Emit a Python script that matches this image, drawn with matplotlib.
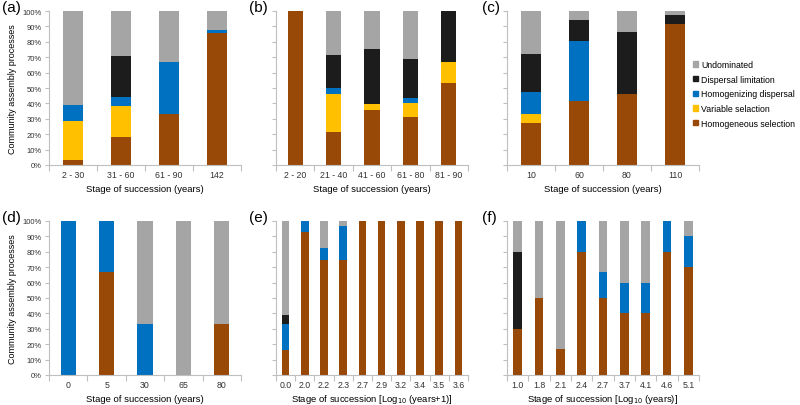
import numpy as np
import matplotlib.pyplot as plt
from matplotlib.patches import Patch

# process order (bottom -> top)
processes = ['Homogeneous selection', 'Variable selaction', 'Homogenizing dispersal',
             'Dispersal limitation', 'Undominated']
colors = ['#984807', '#FFC000', '#0070C0', '#1C1C1C', '#A5A5A5']

# values in % : [HS, VS, HD, DL] per stage, Undominated is the rest
cats_a = ['2 - 30', '31 - 60', '61 - 90', '142']
hs_a = [3.5, 18, 33.3, 86]
vs_a = [25, 20, 0, 0]
hd_a = [10.5, 6, 33.3, 1.5]
dl_a = [0, 27, 0, 0]

cats_b = ['2 - 20', '21 - 40', '41 - 60', '61 - 80', '81 - 90']
hs_b = [100, 21.2, 35.9, 30.9, 53.3]
vs_b = [0, 25, 3.4, 9.1, 13.4]
hd_b = [0, 3.7, 0, 3.6, 0]
dl_b = [0, 21.6, 35.9, 25.5, 33.3]

cats_c = ['10', '60', '80', '110']
hs_c = [27.4, 41.7, 46.4, 91.6]
vs_c = [5.9, 0, 0, 0]
hd_c = [13.8, 38.9, 0, 0]
dl_c = [24.8, 13.8, 40.2, 5.8]

cats_d = ['0', '5', '30', '65', '80']
hs_d = [0, 66.7, 0, 0, 33.3]
vs_d = [0, 0, 0, 0, 0]
hd_d = [100, 33.3, 33.3, 0, 0]
dl_d = [0, 0, 0, 0, 0]

cats_e = ['0.0', '2.0', '2.2', '2.3', '2.7', '2.9', '3.2', '3.4', '3.5', '3.6']
hs_e = [16.2, 93, 75, 75, 100, 100, 100, 100, 100, 100]
vs_e = [0] * 10
hd_e = [16.7, 7, 7.3, 21.5, 0, 0, 0, 0, 0, 0]
dl_e = [5.8, 0, 0, 0, 0, 0, 0, 0, 0, 0]

cats_f = ['1.0', '1.8', '2.1', '2.4', '2.7', '3.7', '4.1', '4.6', '5.1']
hs_f = [30, 50, 16.7, 80, 50, 40, 40, 80, 70]
vs_f = [0] * 9
hd_f = [0, 0, 0, 20, 16.7, 20, 20, 20, 20]
dl_f = [50, 0, 0, 0, 0, 0, 0, 0, 0]

panels = [
    ('(a)', cats_a, [hs_a, vs_a, hd_a, dl_a], 'Stage of succession (years)'),
    ('(b)', cats_b, [hs_b, vs_b, hd_b, dl_b], 'Stage of succession (years)'),
    ('(c)', cats_c, [hs_c, vs_c, hd_c, dl_c], 'Stage of succession (years)'),
    ('(d)', cats_d, [hs_d, vs_d, hd_d, dl_d], 'Stage of succession (years)'),
    ('(e)', cats_e, [hs_e, vs_e, hd_e, dl_e], 'Stage of succession [Log$_{10}$ (years+1)]'),
    ('(f)', cats_f, [hs_f, vs_f, hd_f, dl_f], 'Stage of succession [Log$_{10}$ (years)]'),
]

W, H = 800, 406
fig = plt.figure(figsize=(W / 100, H / 100), dpi=100)
plt.rcParams['font.family'] = ['Liberation Sans', 'DejaVu Sans']

lefts = [49, 276, 507]
tops = [12, 222]
aw, ah = 192, 154
letter_x = [2, 249, 482]
spine_c = '#BFBFBF'

for i, (letter, cats, series, xlab) in enumerate(panels):
    r, c = divmod(i, 3)
    ax = fig.add_axes([lefts[c] / W, 1 - (tops[r] + ah) / H, aw / W, ah / H])
    x = np.arange(len(cats))
    vals = [np.array(s, dtype=float) for s in series]
    und = 100 - sum(vals)
    vals.append(und)
    bottom = np.zeros(len(cats))
    for v, col in zip(vals, colors):
        ax.bar(x, v, 0.4, bottom=bottom, color=col, linewidth=0)
        bottom += v
    ax.set_xlim(-0.5, len(cats) - 0.5)
    ax.set_ylim(0, 100)
    ax.set_yticks(np.arange(0, 101, 10))
    if c == 0:
        ax.set_yticklabels([f'{t}%' for t in range(0, 101, 10)], fontsize=5.5, color='#333333')
        ax.set_ylabel('Community assembly processes', fontsize=6.5, labelpad=4)
    else:
        ax.set_yticklabels([])
    ax.set_xticks(x)
    ax.set_xticklabels(cats, fontsize=6.3, color='#333333')
    ax.set_xticks(np.arange(len(cats) + 1) - 0.5, minor=True)
    ax.tick_params(axis='x', which='major', length=0, pad=3.5)
    ax.tick_params(axis='x', which='minor', length=4, color=spine_c, width=0.8)
    ax.tick_params(axis='y', length=3, color=spine_c, width=0.8, pad=2)
    ax.set_xlabel(xlab, fontsize=6.8, labelpad=2 if '$' in xlab else 3.5)
    for s in ['top', 'right']:
        ax.spines[s].set_visible(False)
    for s in ['left', 'bottom']:
        ax.spines[s].set_color(spine_c)
        ax.spines[s].set_linewidth(0.8)
    fig.text(letter_x[c] / W, 1 - (tops[r] - 11) / H, letter, fontsize=11, va='top', ha='left')

handles = [Patch(color=col, label=lab) for col, lab in zip(colors[::-1], processes[::-1])]
fig.legend(handles=handles, loc='upper left', bbox_to_anchor=(693 / W, 1 - 61 / H),
           frameon=False, fontsize=6.3, handlelength=0.6, handleheight=0.6,
           handletextpad=0.3, labelspacing=0.65, borderaxespad=0, borderpad=0)

fig.savefig('out.png', dpi=100)
